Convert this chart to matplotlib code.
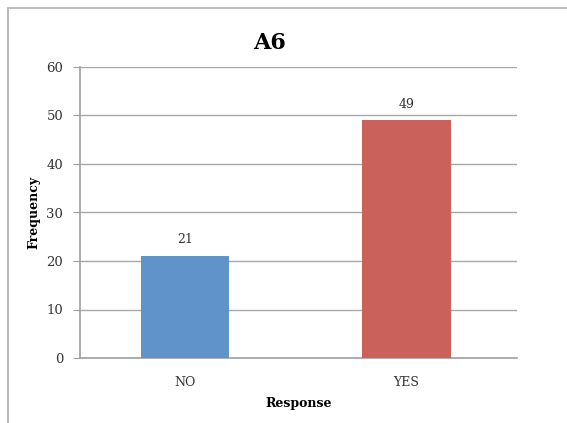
import matplotlib
matplotlib.use("Agg")
import matplotlib.pyplot as plt
from matplotlib.patches import Rectangle

categories = ["NO", "YES"]
values = [21, 49]
colors = ["#6193CB", "#CA615A"]
yticks = [0, 10, 20, 30, 40, 50, 60]

W, H = 567, 423
fig = plt.figure(figsize=(W / 100, H / 100), dpi=100)
fig.patch.set_facecolor("white")

# chart frame
fig.add_artist(Rectangle((8 / W, -0.1), 1.2, 1 - 8 / H + 0.1, transform=fig.transFigure,
                         fill=False, edgecolor="#b0b0b0", linewidth=1.2))

ax = fig.add_axes([80 / W, 1 - 358 / H, (517 - 80) / W, (358 - 67) / H])
font = "DejaVu Serif"
x = list(range(len(categories)))
ax.bar(x, values, width=0.4, color=colors, zorder=3)
for xi, v in zip(x, values):
    ax.text(xi, v + 2.0, str(v), ha="center", va="bottom", fontsize=9, family=font, color="#333333")

ax.set_xlim(-0.475, 1.5)
ax.set_ylim(0, 60)
ax.set_yticks(yticks)
ax.set_yticklabels([str(t) for t in yticks], family=font, fontsize=9.5, color="#333333")
ax.set_xticks(x)
ax.set_xticklabels(categories, family=font, fontsize=9, color="#333333")
ax.tick_params(axis="x", length=0, pad=13)
ax.tick_params(axis="y", length=5, color="#a0a0a0", pad=7)
ax.yaxis.grid(True, color="#a8a8a8", linewidth=1.0, zorder=0)
ax.set_axisbelow(True)
for s in ["top", "right"]:
    ax.spines[s].set_visible(False)
for s in ["left", "bottom"]:
    ax.spines[s].set_color("#a0a0a0")
    ax.spines[s].set_linewidth(1.2)

ax.set_xlabel("Response", family=font, fontsize=9, fontweight="bold", labelpad=6)
ax.set_ylabel("Frequency", family=font, fontsize=9, fontweight="bold", labelpad=4)
fig.text(270 / W, 1 - 43 / H, "A6", ha="center", va="center", family=font,
         fontsize=16, fontweight="bold")

fig.savefig("out.png", dpi=100)
